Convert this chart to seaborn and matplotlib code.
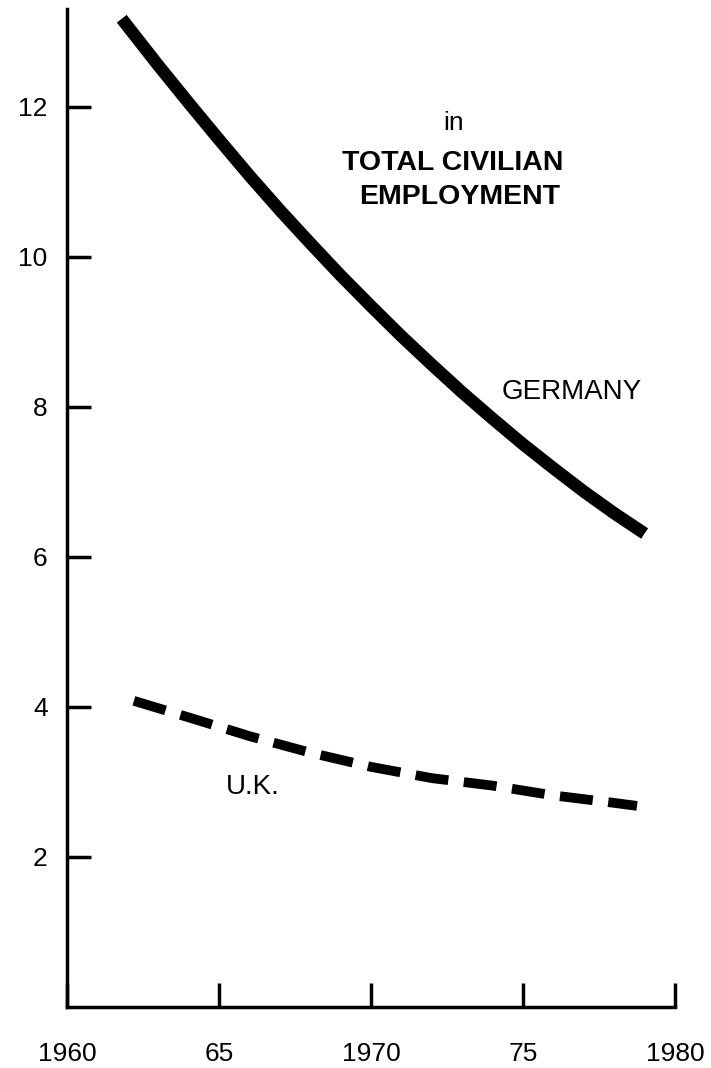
import pandas as pd
import matplotlib.pyplot as plt
import seaborn as sns

# values (share of total civilian employment, %)
years_de = [1961.8, 1963, 1964, 1965, 1966, 1967, 1968, 1969, 1970,
            1971, 1972, 1973, 1974, 1975, 1976, 1977, 1978, 1979]
vals_de = [13.17, 12.55, 12.05, 11.56, 11.08, 10.62, 10.18, 9.75, 9.34,
           8.94, 8.56, 8.19, 7.84, 7.50, 7.18, 6.87, 6.58, 6.31]

years_uk = [1962.2, 1964, 1966, 1968, 1970, 1972, 1974, 1976, 1978, 1978.75]
vals_uk = [4.08, 3.86, 3.61, 3.39, 3.20, 3.05, 2.95, 2.82, 2.72, 2.68]

xticks = [1960, 1965, 1970, 1975, 1980]
xtick_labels = ["1960", "65", "1970", "75", "1980"]
yticks = [2, 4, 6, 8, 10, 12]

sns.set_style("white")
plt.rcParams['font.family'] = ['Liberation Sans', 'DejaVu Sans']
for key in ["text.color", "xtick.color", "ytick.color", "axes.labelcolor"]:
    plt.rcParams[key] = "black"

df_de = pd.DataFrame({"year": years_de, "value": vals_de})
df_uk = pd.DataFrame({"year": years_uk, "value": vals_uk})

fig = plt.figure(figsize=(7.11, 10.68), dpi=100)
ax = fig.add_axes([67 / 711, 1 - 1007 / 1068, 608 / 711, 998 / 1068])

sns.lineplot(data=df_de, x="year", y="value", ax=ax, color="black",
             linewidth=9, solid_capstyle="butt")
sns.lineplot(data=df_uk, x="year", y="value", ax=ax, color="black",
             linewidth=7, linestyle=(0, (3.4, 1.6)), dash_capstyle="butt")

ax.set_xlim(1960, 1980)
ax.set_ylim(0, 13.3)
ax.set_xticks(xticks)
ax.set_xticklabels(xtick_labels)
ax.set_yticks(yticks)
ax.set_xlabel("")
ax.set_ylabel("")

for side in ["top", "right"]:
    ax.spines[side].set_visible(False)
for side in ["left", "bottom"]:
    ax.spines[side].set_linewidth(2.5)
    ax.spines[side].set_color("black")

ax.tick_params(axis="both", direction="in", length=17, width=2.5,
               color="black", labelcolor="black", labelsize=19,
               bottom=True, left=True)
ax.tick_params(axis="y", pad=14)
ax.tick_params(axis="x", pad=25)

# labels
ax.text(1972.7, 11.69, "in", ha="center", va="baseline", fontsize=19)
ax.text(1972.7, 11.25, "TOTAL CIVILIAN", ha="center", va="center",
        fontsize=20.5, fontweight="bold")
ax.text(1972.9, 10.79, "EMPLOYMENT", ha="center", va="center",
        fontsize=20.5, fontweight="bold")
ax.text(1976.6, 8.19, "GERMANY", ha="center", va="center", fontsize=20)
ax.text(1966.1, 2.93, "U.K.", ha="center", va="center", fontsize=20)

fig.savefig("out.png", dpi=100)
